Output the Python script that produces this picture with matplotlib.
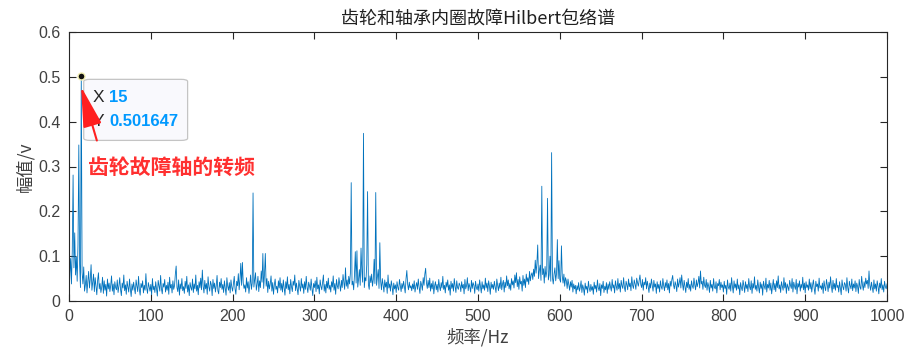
import numpy as np
import matplotlib
matplotlib.use("Agg")
import matplotlib.pyplot as plt
from matplotlib.patches import FancyBboxPatch, FancyArrowPatch

plt.rcParams['font.family'] = ['Liberation Sans', 'Noto Sans CJK SC', 'DejaVu Sans']

# =========================
# DATA: envelope spectrum, 0..1000 Hz at 1 Hz, amplitude in mV
# =========================
amp_mv = [
    4, 62, 95, 38, 112, 281, 74, 152, 58, 98, 44, 126, 348, 82, 30, 501.647, 64, 38, 76, 22,
    36, 57, 18, 44, 66, 29, 49, 81, 24, 41, 60, 21, 52, 33, 14, 46, 63, 27, 39, 19,
    31, 53, 17, 45, 24, 37, 11, 49, 27, 40, 21, 35, 56, 22, 38, 14, 43, 30, 25, 47,
    19, 33, 52, 26, 12, 40, 29, 58, 23, 36, 15, 44, 31, 20, 49, 27, 10, 38, 24, 42,
    28, 16, 47, 33, 21, 55, 26, 13, 39, 30, 45, 18, 35, 24, 61, 29, 17, 41, 32, 22,
    # 100 Hz
    37, 14, 50, 25, 33, 19, 43, 28, 11, 46, 34, 22, 57, 27, 16, 39, 31, 48, 20, 35,
    24, 42, 15, 53, 29, 37, 18, 45, 26, 34, 60, 78, 30, 21, 47, 13, 38, 27, 50, 23,
    32, 17, 44, 28, 55, 20, 36, 12, 41, 30, 24, 49, 19, 38, 27, 58, 22, 35, 14, 43,
    29, 51, 25, 69, 33, 18, 46, 27, 39, 15, 54, 31, 22, 44, 36, 12, 48, 28, 40, 20,
    34, 57, 23, 16, 42, 30, 50, 26, 37, 19, 45, 28, 13, 52, 33, 24, 41, 18, 47, 31,
    # 200 Hz
    22, 39, 55, 27, 15, 44, 34, 61, 25, 48, 84, 35, 86, 40, 28, 36, 20, 52, 29, 43,
    17, 35, 58, 26, 40, 241, 31, 48, 63, 24, 37, 55, 21, 45, 30, 67, 42, 106, 28, 60,
    106, 33, 50, 19, 44, 27, 38, 56, 22, 41, 15, 36, 49, 26, 33, 18, 45, 29, 52, 24,
    39, 20, 47, 31, 13, 43, 28, 54, 25, 37, 16, 48, 32, 21, 44, 35, 58, 23, 40, 27,
    14, 46, 33, 22, 50, 29, 38, 17, 43, 26, 55, 31, 19, 42, 34, 24, 49, 28, 12, 39,
    # 300 Hz
    30, 45, 21, 53, 27, 36, 16, 47, 33, 25, 41, 58, 22, 37, 18, 44, 29, 51, 26, 35,
    20, 43, 31, 56, 24, 39, 15, 48, 34, 27, 52, 37, 22, 46, 30, 59, 41, 26, 74, 33,
    47, 28, 55, 38, 62, 264, 36, 44, 25, 58, 110, 40, 112, 31, 49, 70, 35, 118, 66, 42,
    374, 30, 52, 45, 81, 244, 37, 26, 56, 41, 60, 33, 48, 93, 39, 242, 35, 54, 70, 28,
    130, 44, 25, 50, 36, 20, 47, 31, 42, 17, 58, 29, 38, 22, 45, 33, 14, 40, 27, 36,
    # 400 Hz
    19, 43, 30, 24, 48, 35, 21, 39, 28, 44, 32, 18, 50, 68, 37, 25, 42, 29, 34, 23,
    38, 27, 45, 20, 33, 41, 26, 49, 31, 17, 44, 36, 24, 52, 35, 60, 73, 40, 28, 46,
    30, 51, 22, 39, 27, 45, 16, 34, 43, 25, 37, 20, 48, 32, 23, 41, 29, 55, 26, 35,
    18, 42, 31, 47, 24, 36, 13, 44, 28, 39, 22, 50, 33, 19, 45, 30, 26, 40, 35, 21,
    43, 29, 37, 16, 48, 27, 34, 52, 23, 39, 31, 20, 46, 28, 41, 35, 17, 44, 30, 25,
    # 500 Hz
    38, 22, 47, 32, 18, 43, 27, 36, 24, 51, 29, 40, 21, 45, 33, 15, 42, 28, 37, 26,
    44, 31, 19, 49, 35, 23, 40, 28, 53, 25, 38, 46, 20, 42, 30, 56, 34, 47, 27, 39,
    24, 50, 36, 45, 29, 58, 41, 63, 32, 48, 26, 54, 38, 44, 22, 57, 35, 49, 30, 60,
    43, 52, 37, 66, 45, 58, 63, 48, 71, 55, 91, 62, 84, 125, 50, 68, 80, 46, 256, 59,
    72, 40, 77, 53, 65, 229, 47, 58, 100, 44, 331, 52, 38, 60, 74, 45, 61, 137, 50, 90,
    # 600 Hz
    48, 42, 123, 56, 40, 60, 33, 52, 45, 28, 49, 37, 24, 43, 31, 46, 20, 38, 27, 35,
    16, 34, 25, 41, 22, 30, 45, 19, 36, 28, 13, 40, 26, 33, 18, 44, 29, 21, 37, 24,
    32, 15, 42, 27, 35, 20, 47, 30, 23, 39, 12, 36, 28, 44, 19, 33, 25, 41, 17, 38,
    26, 43, 31, 22, 48, 29, 36, 18, 45, 33, 24, 50, 27, 39, 20, 46, 34, 28, 52, 30,
    21, 44, 36, 25, 49, 32, 40, 23, 54, 35, 28, 47, 38, 26, 51, 41, 33, 45, 58, 37,
    # 700 Hz
    30, 48, 24, 42, 36, 52, 27, 44, 33, 19, 40, 29, 49, 35, 22, 46, 31, 38, 17, 43,
    28, 37, 20, 45, 32, 26, 50, 34, 23, 41, 30, 47, 25, 39, 18, 44, 33, 48, 57, 36,
    27, 43, 35, 21, 49, 31, 40, 52, 29, 58, 38, 24, 46, 33, 19, 42, 30, 50, 26, 37,
    22, 45, 34, 28, 51, 36, 25, 47, 32, 40, 55, 29, 67, 38, 44, 26, 53, 35, 30, 48,
    24, 41, 33, 19, 46, 29, 37, 22, 50, 31, 27, 43, 18, 39, 34, 48, 25, 42, 30, 36,
    # 800 Hz
    20, 44, 28, 35, 15, 47, 31, 26, 40, 22, 52, 33, 18, 45, 29, 38, 24, 49, 27, 36,
    14, 41, 30, 23, 46, 34, 19, 43, 28, 37, 21, 50, 32, 25, 45, 17, 39, 29, 54, 26,
    35, 22, 47, 31, 18, 42, 28, 38, 13, 44, 33, 26, 51, 20, 37, 29, 46, 24, 40, 16,
    32, 48, 25, 39, 21, 45, 30, 56, 27, 36, 19, 43, 34, 24, 52, 29, 41, 17, 38, 31,
    23, 46, 35, 28, 50, 20, 42, 33, 26, 48, 16, 39, 31, 45, 22, 37, 29, 53, 25, 40,
    # 900 Hz
    18, 43, 30, 36, 24, 49, 27, 41, 20, 35, 47, 28, 15, 44, 32, 38, 22, 51, 29, 34,
    26, 40, 17, 45, 31, 23, 48, 36, 21, 42, 29, 54, 33, 19, 46, 27, 39, 24, 50, 30,
    35, 20, 43, 28, 14, 47, 32, 25, 41, 37, 22, 52, 30, 18, 44, 34, 27, 49, 23, 38,
    29, 45, 21, 40, 33, 17, 48, 31, 26, 55, 36, 24, 43, 30, 51, 38, 46, 28, 67, 35,
    24, 42, 31, 19, 47, 27, 38, 22, 45, 33, 16, 40, 29, 50, 25, 36, 20, 44, 32, 27,
    38,
]
freq_hz = np.arange(len(amp_mv))
amp_v = np.array(amp_mv) / 1000.0

tip_x = 15
tip_y = 0.501647

x_ticks = [0, 100, 200, 300, 400, 500, 600, 700, 800, 900, 1000]
y_ticks = [0, 0.1, 0.2, 0.3, 0.4, 0.5, 0.6]

# =========================
# PLOT
# =========================
fig = plt.figure(figsize=(9.06, 3.55), dpi=100)
ax = fig.add_axes([69/906, 1-301/355, 818/906, 269/355])

ax.plot(freq_hz, amp_v, color='#0072BD', lw=0.6)

ax.set_xlim(0, 1000)
ax.set_ylim(0, 0.6)
ax.set_xticks(x_ticks)
ax.set_yticks(y_ticks)
ax.set_xticklabels([str(t) for t in x_ticks])
ax.set_yticklabels(['0', '0.1', '0.2', '0.3', '0.4', '0.5', '0.6'])

for s in ax.spines.values():
    s.set_color('#262626')
    s.set_linewidth(0.8)
ax.tick_params(direction='in', length=5, width=0.8, colors='#262626',
               labelsize=11.5, top=True, right=True, pad=6)
for lab in ax.get_xticklabels() + ax.get_yticklabels():
    lab.set_color('#404040')

cjk = ['Noto Sans CJK SC', 'DejaVu Sans']
ax.set_title('齿轮和轴承内圈故障Hilbert包络谱', fontsize=13, family=cjk,
             color='#202020', pad=6)
ax.set_xlabel('频率/Hz', fontsize=12.5, family=cjk, color='#404040', labelpad=3)
ax.set_ylabel('幅值/v', fontsize=12.5, family=cjk, color='#404040', labelpad=3)

# data tip
box = FancyBboxPatch((0.018, 0.597), 0.127, 0.227, transform=ax.transAxes,
                     boxstyle='round,pad=0,rounding_size=0.008',
                     facecolor='#f9f9fd', edgecolor='#c4c4c4', lw=0.9, zorder=5)
ax.add_patch(box)
ax.text(0.029, 0.755, 'X', transform=ax.transAxes, fontsize=12.5, color='#262626',
        va='center', ha='left', zorder=6)
ax.text(0.0495, 0.755, '15', transform=ax.transAxes, fontsize=12, color='#0099FF',
        fontweight='bold', va='center', ha='left', zorder=6)
ax.text(0.029, 0.668, 'Y', transform=ax.transAxes, fontsize=12.5, color='#262626',
        va='center', ha='left', zorder=6)
ax.text(0.0495, 0.668, '0.501647', transform=ax.transAxes, fontsize=12,
        color='#0099FF', fontweight='bold', va='center', ha='left', zorder=6)
ax.plot([tip_x], [tip_y], 'o', ms=5, mfc='#111111', mec='#f0ecb0', mew=1.0, zorder=8)

# annotation arrow and label
arr = FancyArrowPatch((35, 0.352), (13.8, 0.484),
                      arrowstyle='-|>,head_length=1.8,head_width=0.42',
                      mutation_scale=14, color='#ff2020', lw=1.5, zorder=7)
ax.add_patch(arr)
ax.text(0.0232, 0.498, '齿轮故障轴的转频', transform=ax.transAxes, fontsize=15,
        family=cjk, fontweight='bold', color='#ff3030', va='center', ha='left', zorder=7)

fig.savefig('out.png', dpi=100)
